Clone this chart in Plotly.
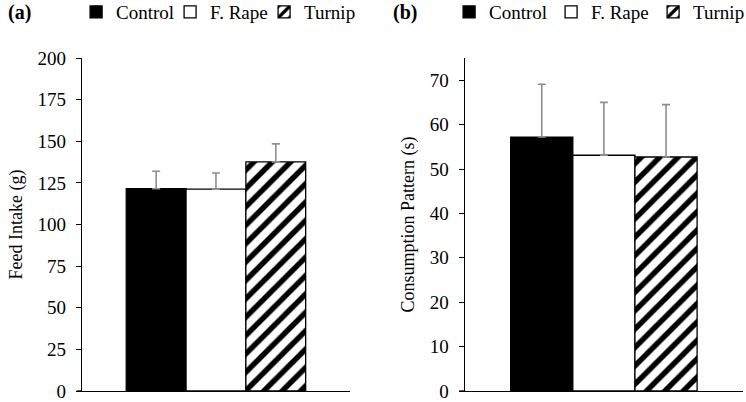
import plotly.graph_objects as go

# treatments and values
treatments = ["Control", "F. Rape", "Turnip"]
feed_intake = [121.5, 121.2, 137.6]
feed_intake_err = [10.5, 9.7, 10.8]
consumption = [57.2, 53.1, 52.7]
consumption_err = [11.9, 11.9, 11.8]

fills = ["black", "white", "white"]
shapes = ["", "", "/"]
serif = "Liberation Serif"

fig = go.Figure()

for i, name in enumerate(treatments):
    for vals, errs, xa, ya, lg in [(feed_intake, feed_intake_err, "x", "y", "legend"),
                                   (consumption, consumption_err, "x2", "y2", "legend2")]:
        fig.add_trace(go.Bar(
            x=[""], y=[vals[i]], name=name, xaxis=xa, yaxis=ya, legend=lg,
            marker=dict(color=fills[i], line=dict(color="black", width=1.3),
                        pattern=dict(shape=shapes[i], fgcolor="black", bgcolor="white",
                                     fgopacity=1, size=13, solidity=0.42)),
            error_y=dict(type="data", array=[errs[i]], symmetric=False, arrayminus=[0],
                         color="#8e8e8e", thickness=1.6, width=4),
        ))

yax = dict(showline=True, linecolor="black", linewidth=1.3, ticks="outside",
           ticklen=5, tickcolor="black", showgrid=False, zeroline=False,
           automargin=False, ticklabelstandoff=6, ticklabeloverflow="allow",
           tickfont=dict(family=serif, size=19, color="black"))
xax = dict(showline=True, linecolor="black", linewidth=1.3, showticklabels=False,
           ticks="", showgrid=False, range=[-0.5, 0.5], automargin=False)

leg = dict(orientation="h", yanchor="middle", xanchor="left", y=1.138,
           font=dict(family=serif, size=19, color="black"),
           itemwidth=30, bgcolor="rgba(0,0,0,0)", tracegroupgap=0)

fig.update_layout(
    width=746, height=402,
    margin=dict(l=0, r=0, t=58, b=11, autoexpand=False),
    plot_bgcolor="white", paper_bgcolor="white",
    barmode="group", bargap=0.33, bargroupgap=0,
    showlegend=True,
    xaxis=dict(xax, domain=[0.110, 0.469]),
    xaxis2=dict(xax, domain=[0.623, 0.996]),
    yaxis=dict(yax, range=[0, 200], dtick=25,
               title=dict(text="Feed Intake (g)", standoff=10,
                          font=dict(family=serif, size=18, color="black"))),
    yaxis2=dict(yax, range=[0, 75], tickvals=[0, 10, 20, 30, 40, 50, 60, 70],
                anchor="x2",
                title=dict(text="Consumption Pattern (s)", standoff=10,
                           font=dict(family=serif, size=18, color="black"))),
    legend=dict(leg, x=0.102, entrywidth=49),
    legend2=dict(leg, x=0.602, entrywidth=57),
    annotations=[
        dict(text="<b>(a)</b>", x=0.008, y=1.138, xref="paper", yref="paper",
             xanchor="left", yanchor="middle", showarrow=False,
             font=dict(family=serif, size=20, color="black")),
        dict(text="<b>(b)</b>", x=0.524, y=1.138, xref="paper", yref="paper",
             xanchor="left", yanchor="middle", showarrow=False,
             font=dict(family=serif, size=20, color="black")),
    ],
)

# x axis line runs a little past the y axis, as in the original
for xd, yr in [("x domain", "y"), ("x2 domain", "y2")]:
    fig.add_shape(type="line", xref=xd, yref=yr, x0=-0.02, x1=0, y0=0, y1=0,
                  line=dict(color="black", width=1.3))

fig.write_html("out.html", config={"displayModeBar": False},
               post_script="document.body.style.margin='0px';")
